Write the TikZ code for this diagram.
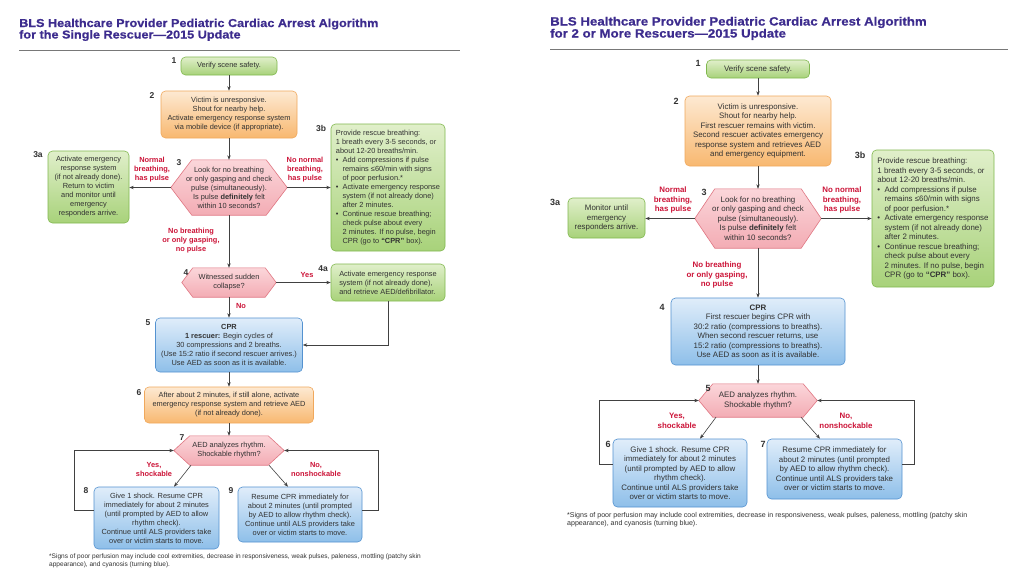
\documentclass[tikz,border=0pt]{standalone}
\usepackage{fontspec}
\setmainfont{Liberation Sans}
\newfontfamily\ttlfont{Liberation Sans Bold}[FakeBold=0.5]
\usepackage{graphicx}
\usetikzlibrary{arrows.meta,backgrounds,calc}
\definecolor{titleC}{RGB}{61,44,142}
\definecolor{redC}{RGB}{204,20,56}
\definecolor{txtC}{RGB}{50,50,50}
\definecolor{lineC}{RGB}{65,65,65}
\definecolor{ruleC}{RGB}{120,120,120}
\definecolor{grT}{RGB}{224,239,202}
\definecolor{grB}{RGB}{168,210,122}
\definecolor{grD}{RGB}{128,184,78}
\definecolor{orT}{RGB}{253,233,210}
\definecolor{orB}{RGB}{248,184,112}
\definecolor{orD}{RGB}{240,168,92}
\definecolor{blT}{RGB}{224,237,250}
\definecolor{blB}{RGB}{142,191,233}
\definecolor{blD}{RGB}{84,146,208}
\definecolor{pkT}{RGB}{251,214,218}
\definecolor{pkB}{RGB}{243,172,180}
\definecolor{pkD}{RGB}{224,118,130}
\newcommand\fL{\fontsize{7.4}{9}\selectfont}
\newcommand\fR{\fontsize{7.9}{9.5}\selectfont}
\newcommand\mybul{\makebox[0.9em][l]{\textbullet}}
\newcommand\myind{\hspace*{0.9em}}
\newcommand\hexat[2]{\begin{pgfonlayer}{background}\path[hexshape] ([xshift=#2pt]#1.north west) -- ([xshift=-#2pt]#1.north east) -- (#1.east) -- ([xshift=-#2pt]#1.south east) -- ([xshift=#2pt]#1.south west) -- (#1.west) -- cycle;\end{pgfonlayer}}
\tikzset{
  boxbase/.style={rounded corners=4.5pt, line width=0.6pt, align=center, inner sep=0pt, text=txtC},
  grbox/.style={boxbase, draw=grD, top color=grT, bottom color=grB},
  orbox/.style={boxbase, draw=orD, top color=orT, bottom color=orB},
  blbox/.style={boxbase, draw=blD, top color=blT, bottom color=blB},
  hextxt/.style={align=center, inner sep=0pt, text=txtC},
  hexshape/.style={draw=pkD, line width=0.6pt, top color=pkT, bottom color=pkB},
  arr/.style={draw=lineC, line width=0.6pt, -{Stealth[length=4.5pt,width=3.4pt]}},
  rulestyle/.style={draw=ruleC, line width=0.8pt},
  numL/.style={font=\fontsize{8.5}{9}\selectfont\bfseries, text=txtC, inner sep=0pt},
  numR/.style={font=\fontsize{9}{9}\selectfont\bfseries, text=txtC, inner sep=0pt},
  redL/.style={font=\fL\bfseries, text=redC, align=center, inner sep=0pt},
  redR/.style={font=\fR\bfseries, text=redC, align=center, inner sep=0pt},
  Lf/.style={font=\fL},
  Rf/.style={font=\fR},
  sz/.style 2 args={minimum width=#1pt, minimum height=#2pt},
  ttlL/.style={anchor=base west, inner sep=0pt, font=\ttlfont\fontsize{11.5}{12}\selectfont, text=titleC},
  ttlR/.style={anchor=base west, inner sep=0pt, font=\ttlfont\fontsize{12}{12}\selectfont, text=titleC},
  fnote/.style={anchor=north west, align=left, inner sep=0pt, text=txtC},
}
\begin{document}
\begin{tikzpicture}[x=1pt, y=-1pt]
\useasboundingbox (0,0) rectangle (1024,576);
\begin{pgfonlayer}{background}
\fill[white] (0,0) rectangle (1024,576);
\end{pgfonlayer}

% ================= LEFT =================
\node[ttlL] (tL1) at (19,27) {\scalebox{1.10}[1]{BLS Healthcare Provider Pediatric Cardiac Arrest Algorithm}};
\node[ttlL] (tL2) at (19,38.5) {\scalebox{1.10}[1]{for the Single Rescuer—2015 Update}};
\draw[rulestyle] (19,50) -- (460,50);

\node[grbox, Lf, sz={96}{18}] (L1) at (229,66) {Verify scene safety.};
\node[orbox, Lf, sz={136}{47}] (L2) at (229,114.5) {Victim is unresponsive.\\Shout for nearby help.\\Activate emergency response system\\via mobile device (if appropriate).};
\node[hextxt, Lf, sz={116}{55}] (L3) at (229,187.5) {Look for no breathing\\or only gasping and check\\pulse (simultaneously).\\Is pulse \textbf{definitely} felt\\within 10 seconds?};
\hexat{L3}{21}
\node[grbox, Lf, sz={81}{72}] (L3a) at (88.5,187) {Activate emergency\\response system\\(if not already done).\\Return to victim\\and monitor until\\emergency\\responders arrive.};
\node[grbox, Lf, sz={114}{127}, align=left] (L3b) at (388,187.5) {Provide rescue breathing:\\1 breath every 3-5 seconds, or\\about 12-20 breaths/min.\\\mybul Add compressions if pulse\\\myind remains ≤60/min with signs\\\myind of poor perfusion.*\\\mybul Activate emergency response\\\myind system (if not already done)\\\myind after 2 minutes.\\\mybul Continue rescue breathing;\\\myind check pulse about every\\\myind 2 minutes. If no pulse, begin\\\myind CPR (go to \textbf{“CPR”} box).};
\node[hextxt, Lf, sz={94}{29}] (L4) at (229,282.5) {Witnessed sudden\\collapse?};
\hexat{L4}{11}
\node[grbox, Lf, sz={114}{37}, align=left] (L4a) at (388,282.5) {Activate emergency response\\system (if not already done),\\and retrieve AED/defibrillator.};
\node[blbox, Lf, sz={147}{54}] (L5) at (229,345) {\textbf{CPR}\\\textbf{1 rescuer:} Begin cycles of\\30 compressions and 2 breaths.\\(Use 15:2 ratio if second rescuer arrives.)\\Use AED as soon as it is available.};
\node[orbox, Lf, sz={169}{36}] (L6) at (229,405) {After about 2 minutes, if still alone, activate\\emergency response system and retrieve AED\\(if not already done).};
\node[hextxt, Lf, sz={110}{29}] (L7) at (229,450.5) {AED analyzes rhythm.\\Shockable rhythm?};
\hexat{L7}{16}
\node[blbox, Lf, sz={125}{62}] (L8) at (156.5,518) {Give 1 shock. Resume CPR\\immediately for about 2 minutes\\(until prompted by AED to allow\\rhythm check).\\Continue until ALS providers take\\over or victim starts to move.};
\node[blbox, Lf, sz={124}{55}] (L9) at (300,514.5) {Resume CPR immediately for\\about 2 minutes (until prompted\\by AED to allow rhythm check).\\Continue until ALS providers take\\over or victim starts to move.};

\draw[arr] (L1.south) -- (L2.north);
\draw[arr] (L2.south) -- (L3.north);
\draw[arr] (L3.west) -- (L3.west -| L3a.east);
\draw[arr] (L3.east) -- (L3.east -| L3b.west);
\draw[arr] (L3.south) -- (L4.north);
\draw[arr] (L4.east) -- (L4.east -| L4a.west);
\draw[arr] (L4a.south) |- (L5.east);
\draw[arr] (L4.south) -- (L5.north);
\draw[arr] (L5.south) -- (L6.north);
\draw[arr] (L6.south) -- (L7.north);
\draw[arr] ([xshift=-38pt]L7.south) -- ([xshift=17.5pt]L8.north);
\draw[arr] ([xshift=40pt]L7.south) -- ([xshift=-12pt]L9.north);
\draw[arr] ([yshift=8pt]L8.west) -- ++(-19,0) |- (L7.west);
\draw[arr] ([yshift=4.5pt]L9.east) -- ++(16,0) |- (L7.east);

\node[numL] (nL1) at (174,61) {1};
\node[numL] (nL2) at (152,96) {2};
\node[numL] (nL3) at (179,163) {3};
\node[numL] (nL3a) at (38,155) {3a};
\node[numL] (nL3b) at (321,128) {3b};
\node[numL] (nL4) at (186,273) {4};
\node[numL] (nL4a) at (323,269) {4a};
\node[numL] (nL5) at (148,323) {5};
\node[numL] (nL6) at (139,393) {6};
\node[numL] (nL7) at (182,438) {7};
\node[numL] (nL8) at (86,491) {8};
\node[numL] (nL9) at (231,491) {9};

\node[redL] (rL1) at (152,170) {Normal\\breathing,\\has pulse};
\node[redL] (rL2) at (305,170) {No normal\\breathing,\\has pulse};
\node[redL] (rL3) at (191,241) {No breathing\\or only gasping,\\no pulse};
\node[redL] (rL4) at (307,275) {Yes};
\node[redL] (rL5) at (241,306) {No};
\node[redL] (rL6) at (154,469) {Yes,\\shockable};
\node[redL] (rL7) at (316,469) {No,\\nonshockable};

\node[fnote, font=\fontsize{6.55}{8}\selectfont] (fnL) at (49,554) {*Signs of poor perfusion may include cool extremities, decrease in responsiveness, weak pulses, paleness, mottling (patchy skin\\appearance), and cyanosis (turning blue).};

% ================= RIGHT =================
\node[ttlR] (tR1) at (550,25.5) {\scalebox{1.105}[1]{BLS Healthcare Provider Pediatric Cardiac Arrest Algorithm}};
\node[ttlR] (tR2) at (550,37.5) {\scalebox{1.105}[1]{for 2 or More Rescuers—2015 Update}};
\draw[rulestyle] (550,49) -- (1008,49);

\node[grbox, Rf, sz={103}{18}] (R1) at (758,69) {Verify scene safety.};
\node[orbox, Rf, sz={146}{70}] (R2) at (758,131) {Victim is unresponsive.\\Shout for nearby help.\\First rescuer remains with victim.\\Second rescuer activates emergency\\response system and retrieves AED\\and emergency equipment.};
\node[hextxt, Rf, sz={126}{59}] (R3) at (758,218.5) {Look for no breathing\\or only gasping and check\\pulse (simultaneously).\\Is pulse \textbf{definitely} felt\\within 10 seconds?};
\hexat{R3}{20}
\node[grbox, Rf, sz={77}{40}] (R3a) at (606.5,218) {Monitor until\\emergency\\responders arrive.};
\node[grbox, Rf, sz={122}{137}, align=left] (R3b) at (933,218.5) {Provide rescue breathing:\\1 breath every 3-5 seconds, or\\about 12-20 breaths/min.\\\mybul Add compressions if pulse\\\myind remains ≤60/min with signs\\\myind of poor perfusion.*\\\mybul Activate emergency response\\\myind system (if not already done)\\\myind after 2 minutes.\\\mybul Continue rescue breathing;\\\myind check pulse about every\\\myind 2 minutes. If no pulse, begin\\\myind CPR (go to \textbf{“CPR”} box).};
\node[blbox, Rf, sz={174}{67}] (R4) at (758,331.5) {\textbf{CPR}\\First rescuer begins CPR with\\30:2 ratio (compressions to breaths).\\When second rescuer returns, use\\15:2 ratio (compressions to breaths).\\Use AED as soon as it is available.};
\node[hextxt, Rf, sz={118}{33}] (R5) at (758,400.5) {AED analyzes rhythm.\\Shockable rhythm?};
\hexat{R5}{14}
\node[blbox, Rf, sz={134}{68}] (R6) at (680,473) {Give 1 shock. Resume CPR\\immediately for about 2 minutes\\(until prompted by AED to allow\\rhythm check).\\Continue until ALS providers take\\over or victim starts to move.};
\node[blbox, Rf, sz={135}{60}] (R7) at (834.5,469) {Resume CPR immediately for\\about 2 minutes (until prompted\\by AED to allow rhythm check).\\Continue until ALS providers take\\over or victim starts to move.};

\draw[arr] (R1.south) -- (R2.north);
\draw[arr] (R2.south) -- (R3.north);
\draw[arr] (R3.west) -- (R3.west -| R3a.east);
\draw[arr] (R3.east) -- (R3.east -| R3b.west);
\draw[arr] (R3.south) -- (R4.north);
\draw[arr] (R4.south) -- (R5.north);
\draw[arr] ([xshift=-42pt]R5.south) -- ([xshift=20pt]R6.north);
\draw[arr] ([xshift=43pt]R5.south) -- ([xshift=-14.5pt]R7.north);
\draw[arr] ([yshift=9pt]R6.west) -- ++(-13,0) |- (R5.west);
\draw[arr] ([yshift=5pt]R7.east) -- ++(12,0) |- (R5.east);

\node[numR] (nR1) at (698,63) {1};
\node[numR] (nR2) at (676,101) {2};
\node[numR] (nR3) at (704,192) {3};
\node[numR] (nR3a) at (555,202) {3a};
\node[numR] (nR3b) at (860,155) {3b};
\node[numR] (nR4) at (662,307) {4};
\node[numR] (nR5) at (708,388) {5};
\node[numR] (nR6) at (608,444) {6};
\node[numR] (nR7) at (763,444) {7};

\node[redR] (rR1) at (673,200) {Normal\\breathing,\\has pulse};
\node[redR] (rR2) at (842,200) {No normal\\breathing,\\has pulse};
\node[redR] (rR3) at (717,275) {No breathing\\or only gasping,\\no pulse};
\node[redR] (rR4) at (677,421) {Yes,\\shockable};
\node[redR] (rR5) at (846,421) {No,\\nonshockable};

\node[fnote, font=\fontsize{7.05}{8}\selectfont] (fnR) at (567,512) {*Signs of poor perfusion may include cool extremities, decrease in responsiveness, weak pulses, paleness, mottling (patchy skin\\appearance), and cyanosis (turning blue).};
\end{tikzpicture}
\end{document}
